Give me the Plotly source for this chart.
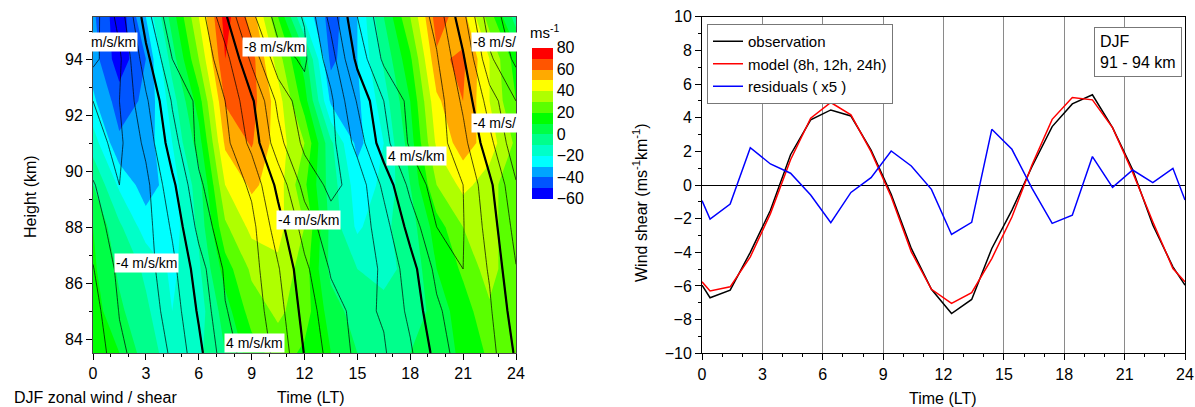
import plotly.graph_objects as go

# ---------------- data: left panel (zonal wind, m/s) ----------------
grid_times = [0, 1.5, 3, 4.5, 6, 7.5, 9, 10.5, 12, 13.5, 15, 16.5, 18, 19.5, 21, 22.5, 24]
grid_heights = [83.5, 85, 86.5, 88, 89.5, 91, 92.5, 94, 95.5]

wind_83_5 = [15, 10, -5, -15, -12, 0, 15, 25, 18, 10, 0, -5, 0, 5, 12, 22, 20]
wind_85_0 = [15, 2, -8, -20, -15, 5, 25, 32, 25, 5, -5, -8, -8, 5, 15, 28, 20]
wind_86_5 = [12, -2, -12, -22, -12, 15, 32, 38, 25, -3, -10, -12, -8, 10, 22, 35, 20]
wind_88_0 = [10, -8, -25, -25, -8, 28, 43, 43, 30, -3, -22, -12, -5, 15, 30, 35, 20]
wind_89_5 = [0, -22, -35, -25, -5, 40, 52, 45, 22, -5, -25, -18, 0, 30, 43, 35, 20]
wind_91_0 = [-15, -38, -35, -20, 5, 52, 61, 45, 30, -8, -33, -20, 5, 42, 55, 45, 28]
wind_92_5 = [-28, -45, -38, -15, 15, 61, 64, 45, 15, -32, -32, -15, 10, 48, 60, 40, 20]
wind_94_0 = [-35, -56, -40, -5, 30, 70, 64, 35, 5, -43, -30, -8, 18, 58, 62, 40, 15]
wind_95_5 = [-38, -57, -30, 5, 40, 74, 56, 20, -22, -45, -30, 0, 30, 65, 54, 25, -5]

# ---------------- data: left panel (wind shear, m/s/km) ----------------
shear_83_5 = [-0.3, -3.6, -5.0, -3.8, -0.6, 3.2, 5.0, 3.6, -0.1, -2.8, -4.4, -4.2, -2.3, 0.7, 3.3, 2.8, -0.3]
shear_85_0 = [-1.1, -4.1, -5.0, -3.2, 0.3, 3.9, 5.0, 2.9, -0.8, -3.3, -4.5, -3.8, -1.5, 1.6, 3.5, 2.3, -1.1]
shear_86_5 = [-1.9, -4.5, -4.8, -2.6, 1.1, 4.3, 4.8, 2.2, -1.5, -4.2, -5.0, -3.7, -0.9, 2.6, 4.0, 1.8, -1.9]
shear_88_0 = [-2.8, -5.3, -4.8, -1.7, 2.6, 5.3, 4.6, 0.9, -2.9, -5.2, -5.2, -2.9, 0.8, 4.0, 4.1, 1.2, -2.8]
shear_89_5 = [-3.8, -6.0, -4.6, -0.5, 3.7, 5.5, 3.6, -0.6, -4.7, -6.5, -5.3, -1.5, 2.6, 4.9, 4.0, 0.5, -3.8]
shear_91_0 = [-5.5, -6.4, -3.5, 1.2, 4.5, 4.6, 1.4, -3.3, -6.5, -6.6, -3.3, 1.3, 4.3, 4.9, 2.7, -1.4, -5.5]
shear_92_5 = [-6.0, -6.0, -2.4, 2.2, 4.5, 4.0, 0.4, -4.5, -7.3, -6.4, -1.8, 2.0, 4.6, 5.0, 1.6, -3.0, -6.0]
shear_94_0 = [-8.5, -6.4, -0.7, 4.0, 5.4, 2.9, -2.5, -7.3, -8.3, -5.0, 0.6, 4.4, 5.8, 4.2, 0.3, -5.6, -8.5]
shear_95_5 = [-8.9, -5.3, 1.1, 5.5, 5.2, 0.4, -5.5, -8.8, -7.9, -3.3, 2.0, 5.3, 5.8, 3.3, -1.4, -7.3, -8.9]

wind_rows = [wind_83_5, wind_85_0, wind_86_5, wind_88_0, wind_89_5,
             wind_91_0, wind_92_5, wind_94_0, wind_95_5]
shear_rows = [shear_83_5, shear_85_0, shear_86_5, shear_88_0, shear_89_5,
              shear_91_0, shear_92_5, shear_94_0, shear_95_5]

# ---------------- data: right panel (shear 91-94 km) ----------------
ts_times = [0, 0.4, 1.4, 2.4, 3.4, 4.4, 5.4, 6.4, 7.4, 8.4, 9.4, 10.4, 11.4, 12.4,
            13.4, 14.4, 15.4, 16.4, 17.4, 18.4, 19.4, 20.4, 21.4, 22.4, 23.4, 24]
observation = [-5.95, -6.7, -6.25, -4.0, -1.5, 1.8, 3.87, 4.46, 4.1, 2.08, -0.55, -3.77, -6.2,
               -7.64, -6.8, -3.77, -1.49, 1.1, 3.47, 4.82, 5.36, 3.41, 0.9, -2.38, -4.86, -5.95]
model = [-5.75, -6.3, -6.05, -4.27, -1.7, 1.5, 3.97, 4.9, 4.17, 1.98, -0.7, -3.97, -6.2,
         -7.04, -6.4, -4.37, -1.9, 1.2, 3.9, 5.2, 5.06, 3.41, 0.75, -2.18, -4.96, -5.75]
residuals = [-0.93, -2.02, -1.13, 2.22, 1.25, 0.7, -0.6, -2.24, -0.44, 0.44, 2.02, 1.13, -0.26,
             -2.94, -2.22, 3.31, 2.12, -0.2, -2.28, -1.79, 1.69, -0.14, 0.89, 0.14, 0.99, -0.89]

# colour bins: -60 .. 80 in steps of 10 (bottom to top)
bin_colors = ["rgb(0,0,255)", "rgb(0,85,255)", "rgb(0,165,255)", "rgb(0,255,255)",
              "rgb(0,255,200)", "rgb(0,255,140)", "rgb(0,255,70)", "rgb(0,255,0)",
              "rgb(90,255,0)", "rgb(175,255,0)", "rgb(255,255,0)", "rgb(255,170,0)",
              "rgb(255,85,0)", "rgb(255,0,0)"]
cb_ticks = [-60, -40, -20, 0, 20, 40, 60, 80]

W, H = 1195, 407
FONT = "Liberation Sans, Arial, sans-serif"


def px(x):  # pixel x -> paper fraction
    return x / W


def py(y):  # pixel y (from top) -> paper fraction
    return 1 - y / H


nb = len(bin_colors)
colorscale = []
for i, c in enumerate(bin_colors):
    colorscale.append([i / nb, c])
    colorscale.append([(i + 1) / nb, c])

fig = go.Figure()

fig.add_trace(go.Contour(
    x=grid_times, y=grid_heights, z=wind_rows,
    zmin=-60, zmax=80, colorscale=colorscale,
    contours=dict(start=-60, end=80, size=10, coloring="fill", showlines=False),
    line=dict(width=0, smoothing=0),
    colorbar=dict(
        x=px(532), xanchor="left", y=py(47.7), yanchor="top",
        len=150.6 / H, lenmode="fraction", thickness=21, thicknessmode="pixels",
        outlinewidth=0, xpad=0, ypad=0,
        tickvals=cb_ticks, ticks="",
        tickfont=dict(family=FONT, size=16, color="black"),
    ),
    showlegend=False, hoverinfo="skip", xaxis="x", yaxis="y",
))

fig.add_trace(go.Contour(
    x=grid_times, y=grid_heights, z=shear_rows,
    contours=dict(start=-8, end=8, size=2, coloring="none", showlines=True),
    line=dict(color="black", width=0.7, smoothing=0),
    showscale=False, showlegend=False, hoverinfo="skip", xaxis="x", yaxis="y",
))
fig.add_trace(go.Contour(
    x=grid_times, y=grid_heights, z=shear_rows,
    contours=dict(start=0, end=0, size=1, coloring="none", showlines=True),
    line=dict(color="black", width=2.2, smoothing=0),
    showscale=False, showlegend=False, hoverinfo="skip", xaxis="x", yaxis="y",
))

fig.add_trace(go.Scatter(x=ts_times, y=observation, mode="lines", name="observation",
                         line=dict(color="black", width=1.5), xaxis="x2", yaxis="y2"))
fig.add_trace(go.Scatter(x=ts_times, y=model, mode="lines", name="model (8h, 12h, 24h)",
                         line=dict(color="red", width=1.5), xaxis="x2", yaxis="y2"))
fig.add_trace(go.Scatter(x=ts_times, y=residuals, mode="lines", name="residuals ( x5 )",
                         line=dict(color="blue", width=1.5), xaxis="x2", yaxis="y2"))

tickfont = dict(family=FONT, size=16, color="black")


def axis_style(linecolor="black"):
    return dict(showline=True, linecolor=linecolor, linewidth=1, mirror=True,
                ticks="outside", ticklen=6, tickcolor="black", tickfont=tickfont,
                automargin=False)


fig.update_layout(
    width=W, height=H, margin=dict(l=0, r=0, t=0, b=0, autoexpand=False),
    paper_bgcolor="white", plot_bgcolor="white",
    font=dict(family=FONT, size=16, color="black"),
    xaxis=dict(domain=[px(93), px(516)], range=[0, 24], tickvals=list(range(0, 25, 3)),
               minor=dict(dtick=1, tick0=0, ticks="outside", ticklen=3, tickcolor="black"),
               showgrid=False, zeroline=False, **axis_style("#444")),
    yaxis=dict(domain=[py(353), py(17)], range=[83.5, 95.5], tick0=84, dtick=2,
               minor=dict(dtick=1, tick0=83, ticks="outside", ticklen=3, tickcolor="black"),
               showgrid=False, zeroline=False, **axis_style("#444")),
    xaxis2=dict(domain=[px(702), px(1185)], range=[0, 24], tickvals=list(range(0, 25, 3)),
                minor=dict(dtick=1, tick0=0, ticks="outside", ticklen=3, tickcolor="black"),
                showgrid=True, gridcolor="#8a8a8a", gridwidth=1, zeroline=False,
                anchor="y2", **axis_style()),
    yaxis2=dict(domain=[py(353.3), py(16.7)], range=[-10, 10], tick0=-10, dtick=2,
                minor=dict(dtick=1, tick0=-10, ticks="outside", ticklen=3, tickcolor="black"),
                showgrid=False, anchor="x2", zeroline=True, zerolinecolor="black",
                zerolinewidth=1, **axis_style()),
    showlegend=True,
    legend=dict(x=px(707), xanchor="left", y=py(24), yanchor="top",
                bgcolor="white", bordercolor="#777", borderwidth=1,
                font=dict(family=FONT, size=15, color="black"), tracegroupgap=0),
)

ann = []


def label(text, x, y, xanchor="center"):
    ann.append(dict(text=text, x=x, y=y, xref="x", yref="y", xanchor=xanchor, yanchor="middle",
                    showarrow=False, bgcolor="white", borderpad=1,
                    font=dict(family=FONT, size=14, color="black")))


# contour labels (t in hours, height in km)
label("m/s/km", (138 - 93) / 17.63, 95.5 - (42 - 17) / 28, xanchor="right")
label("-8 m/s/km", 10.27, 94.43)
label("-8 m/s/", (471 - 93) / 17.63, 95.5 - (42 - 17) / 28, xanchor="left")
label("-4 m/s/", (471 - 93) / 17.63, 95.5 - (123 - 17) / 28, xanchor="left")
label("4 m/s/km", 18.38, 90.55)
label("-4 m/s/km", 12.2, 88.25)
label("-4 m/s/km", 3.06, 86.7)
label("4 m/s/km", 9.19, 83.85)

txt = dict(family=FONT, size=16, color="black")
ann += [
    dict(text="ms<sup>-1</sup>", x=px(528), y=py(31), xref="paper", yref="paper",
         xanchor="left", yanchor="middle", showarrow=False,
         font=dict(family=FONT, size=15, color="black")),
    dict(text="Height (km)", x=px(30), y=py(197), xref="paper", yref="paper", textangle=-90,
         xanchor="center", yanchor="middle", showarrow=False, font=txt),
    dict(text="Time (LT)", x=px(311), y=py(397), xref="paper", yref="paper",
         xanchor="center", yanchor="middle", showarrow=False, font=txt),
    dict(text="DJF zonal wind / shear", x=px(12), y=py(397), xref="paper", yref="paper",
         xanchor="left", yanchor="middle", showarrow=False, font=txt),
    dict(text="Time (LT)", x=px(943), y=py(398), xref="paper", yref="paper",
         xanchor="center", yanchor="middle", showarrow=False, font=txt),
    dict(text="Wind shear (ms<sup>-1</sup>km<sup>-1</sup>)", x=px(640), y=py(203),
         xref="paper", yref="paper", textangle=-90, xanchor="center", yanchor="middle",
         showarrow=False, font=txt),
    dict(text="DJF<br>91 - 94 km", x=px(1182), y=py(27), xref="paper", yref="paper",
         xanchor="right", yanchor="top", align="left", showarrow=False, font=txt,
         bgcolor="white", bordercolor="#777", borderwidth=1, borderpad=5),
]
fig.update_layout(annotations=ann)

# remove the default 8px page margin so the figure fills the window exactly
fig.write_html("out.html", config={"displayModeBar": False},
               post_script="document.body.style.margin='0';document.body.style.overflow='hidden';")
